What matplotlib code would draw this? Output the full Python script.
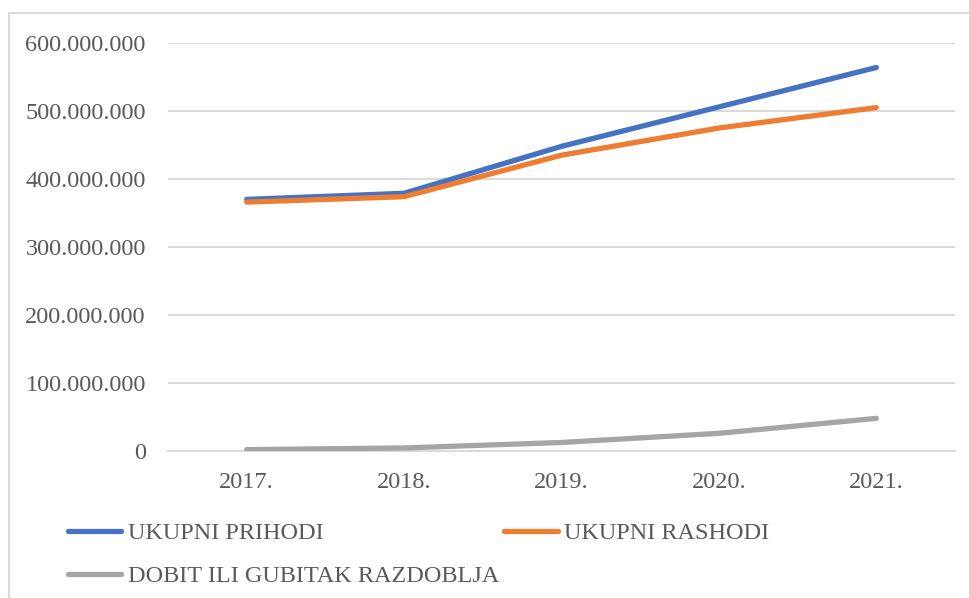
import matplotlib.pyplot as plt
from matplotlib.patches import Rectangle

# values
godine = ['2017.', '2018.', '2019.', '2020.', '2021.']
ukupni_prihodi = [370_000_000, 379_000_000, 448_000_000, 506_000_000, 564_000_000]
ukupni_rashodi = [366_000_000, 374_000_000, 435_000_000, 475_000_000, 505_000_000]
dobit = [2_000_000, 4_500_000, 12_500_000, 26_000_000, 48_000_000]
y_ticks = [0, 100_000_000, 200_000_000, 300_000_000, 400_000_000, 500_000_000, 600_000_000]

series = [
    ('UKUPNI PRIHODI', ukupni_prihodi, '#4472C4'),
    ('UKUPNI RASHODI', ukupni_rashodi, '#ED7D31'),
    ('DOBIT ILI GUBITAK RAZDOBLJA', dobit, '#A5A5A5'),
]

plt.rcParams['font.family'] = ['Liberation Serif', 'DejaVu Serif']

fig = plt.figure(figsize=(9.7, 5.98), dpi=100)
W, H = 970, 598
ax = fig.add_axes([168 / W, 1 - 451 / H, (955 - 168) / W, (451 - 43) / H])

x = list(range(len(godine)))
handles = {}
for label, values, color in series:
    line, = ax.plot(x, values, color=color, linewidth=3.8, solid_capstyle='round',
                    solid_joinstyle='round', label=label, zorder=3)
    handles[label] = line

ax.set_xlim(-0.5, len(godine) - 0.5)
ax.set_ylim(0, 600_000_000)
ax.set_xticks(x)
ax.set_xticklabels(godine)
ax.set_yticks(y_ticks)
ax.set_yticklabels(['0' if v == 0 else f'{v:,}'.replace(',', '.') for v in y_ticks])
ax.tick_params(axis='both', length=0, labelsize=17.5, labelcolor='#595959')
ax.tick_params(axis='x', pad=15)
ax.tick_params(axis='y', pad=16)
ax.grid(axis='y', color='#D9D9D9', linewidth=1.4, zorder=0)
for side in ['top', 'right', 'left']:
    ax.spines[side].set_visible(False)
ax.spines['bottom'].set_color('#D9D9D9')
ax.spines['bottom'].set_linewidth(1.4)

# two legend rows, laid out like Excel does it
leg_kw = dict(loc='upper left', frameon=False, prop={'family': 'Liberation Serif', 'size': 17.5},
              handlelength=2.2, handletextpad=0.25, columnspacing=7.45,
              borderaxespad=0, borderpad=0)
rows = [(['UKUPNI PRIHODI', 'UKUPNI RASHODI'], 522), (['DOBIT ILI GUBITAK RAZDOBLJA'], 565)]
for labels, top in rows:
    leg = fig.legend(handles=[handles[k] for k in labels], ncol=len(labels),
                     bbox_to_anchor=(68 / W, 1 - top / H), **leg_kw)
    for t in leg.get_texts():
        t.set_color('#595959')

# chart area border (cropped in the reference)
fig.patches.append(Rectangle((9 / W, -0.1), 1.2, 1 - 13 / H + 0.1, transform=fig.transFigure,
                             fill=False, edgecolor='#D9D9D9', linewidth=1.4))

fig.savefig('out.png', dpi=100)
